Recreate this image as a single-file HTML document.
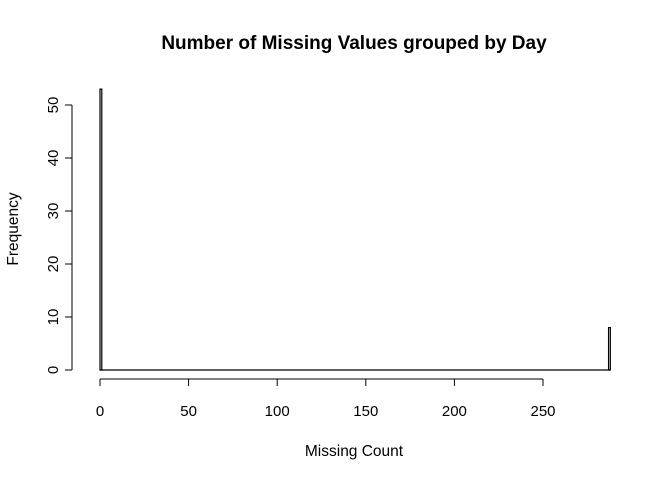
<!DOCTYPE html>
<html><head><meta charset="utf-8"><style>
body{margin:0;background:#fff}
text{font-family:"Liberation Sans",Arial,sans-serif}
</style></head><body>
<svg id="chart" width="672" height="480" xmlns="http://www.w3.org/2000/svg">
<text x="354" y="49" text-anchor="middle" font-size="19" font-weight="bold">Number of Missing Values grouped by Day</text>
<text x="354" y="456" text-anchor="middle" font-size="15.5">Missing Count</text>
<text transform="translate(18,229) rotate(-90)" text-anchor="middle" font-size="15.5">Frequency</text>
<g id="marks"></g>
<g id="axes"></g>
</svg>
<script>
const binStarts=[0,287];
const binCounts=[53,8];
const binWidth=1;
const xMax=288;
const xTicks=[0,50,100,150,200,250];
const yTicks=[0,10,20,30,40,50];
const sx=v=>100+v*1.772;
const sy=v=>370-v*5.3;
const NS="http://www.w3.org/2000/svg";
const marks=document.getElementById('marks'),axes=document.getElementById('axes');
function mk(tag,attrs,parent){const e=document.createElementNS(NS,tag);for(const k in attrs)e.setAttribute(k,attrs[k]);parent.appendChild(e);return e;}
const base=mk('line',{x1:sx(0),x2:sx(xMax),y1:sy(0),y2:sy(0),stroke:'#000','stroke-width':1.2},marks);


binStarts.forEach((b,i)=>{
  const r=mk('rect',{x:sx(b),y:sy(binCounts[i]),width:sx(b+binWidth)-sx(b),height:sy(0)-sy(binCounts[i]),fill:'none',stroke:'#000','stroke-width':1.2},marks);
  
  
});
const xl=mk('line',{x1:sx(xTicks[0]),x2:sx(xTicks[xTicks.length-1]),y1:379,y2:379,stroke:'#000'},axes);


xTicks.forEach(t=>{
  mk('line',{x1:sx(t),x2:sx(t),y1:379,y2:386,stroke:'#000'},axes);
  const tx=mk('text',{x:sx(t),y:416,'text-anchor':'middle','font-size':15},axes);tx.textContent=t;
  
  
});
const yl=mk('line',{x1:72,x2:72,y1:sy(yTicks[0]),y2:sy(yTicks[yTicks.length-1]),stroke:'#000'},axes);


yTicks.forEach(t=>{
  mk('line',{x1:65,x2:72,y1:sy(t),y2:sy(t),stroke:'#000'},axes);
  const tx=mk('text',{transform:`translate(58,${sy(t)}) rotate(-90)`,'text-anchor':'middle','font-size':15},axes);tx.textContent=t;
  
  
});
</script>
</body></html>
